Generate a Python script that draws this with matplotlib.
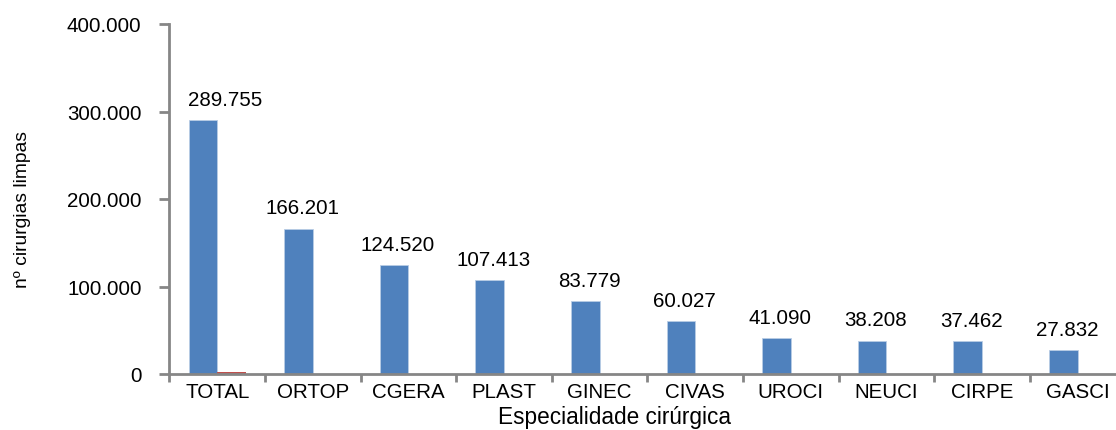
import matplotlib
matplotlib.use('Agg')
import matplotlib.pyplot as plt
import numpy as np

plt.rcParams['font.family'] = ['Liberation Sans', 'DejaVu Sans']

especialidades = ['TOTAL', 'ORTOP', 'CGERA', 'PLAST', 'GINEC', 'CIVAS', 'UROCI', 'NEUCI', 'CIRPE', 'GASCI']
cirurgias = [289755, 166201, 124520, 107413, 83779, 60027, 41090, 38208, 37462, 27832]
# second series (red), only visible for TOTAL
infeccoes = [2300, 400, 300, 250, 200, 150, 100, 90, 80, 70]

blue = '#4F81BD'
red = '#C0504D'
gray = '#868686'
fs = 14.8

def fmt(v):
    return '{:,}'.format(int(v)).replace(',', '.')

fig = plt.figure(figsize=(11.16, 4.31), dpi=100)
ax = fig.add_axes([169.4 / 1116, 1 - 375 / 431, 956 / 1116, 350 / 431])

x = np.arange(len(especialidades))
w = 0.3
ax.bar(x - w / 2, cirurgias, width=w, color=blue, edgecolor='#B9CDE5', linewidth=0.6)
ax.bar(x + w / 2, infeccoes, width=w, color=red)

for i, v in enumerate(cirurgias):
    ax.annotate(fmt(v), (x[i] - w / 2 + (0.23 if i == 0 else 0.04), v), xytext=(0, 8),
                textcoords='offset points', ha='center', va='bottom', fontsize=fs)

ax.set_xlim(-0.5, len(especialidades) - 0.5)
ax.set_ylim(0, 400000)
ax.set_yticks([0, 100000, 200000, 300000, 400000])
ax.set_yticklabels([fmt(t) for t in [0, 100000, 200000, 300000, 400000]], fontsize=fs)

ax.set_xticks(np.arange(-0.5, len(especialidades), 1))
ax.set_xticklabels([])
ax.set_xticks(x, minor=True)
ax.set_xticklabels(especialidades, minor=True, fontsize=fs)
ax.tick_params(axis='x', which='minor', length=0, pad=6)
ax.tick_params(axis='x', which='major', length=6, width=2, color=gray, direction='out')
ax.tick_params(axis='y', length=7, width=2, color=gray, direction='out', pad=13)

for s in ['top', 'right']:
    ax.spines[s].set_visible(False)
for s in ['left', 'bottom']:
    ax.spines[s].set_color(gray)
    ax.spines[s].set_linewidth(2)

ax.set_ylabel('nº cirurgias limpas', fontsize=13.9, va='center')
ax.yaxis.set_label_coords((23 - 169.4) / 956, (375 - 210) / 350)
ax.set_xlabel('Especialidade cirúrgica', fontsize=16.3, va='baseline')
ax.xaxis.set_label_coords(0.466, -49 / 350)

fig.savefig('out.png', dpi=100)
